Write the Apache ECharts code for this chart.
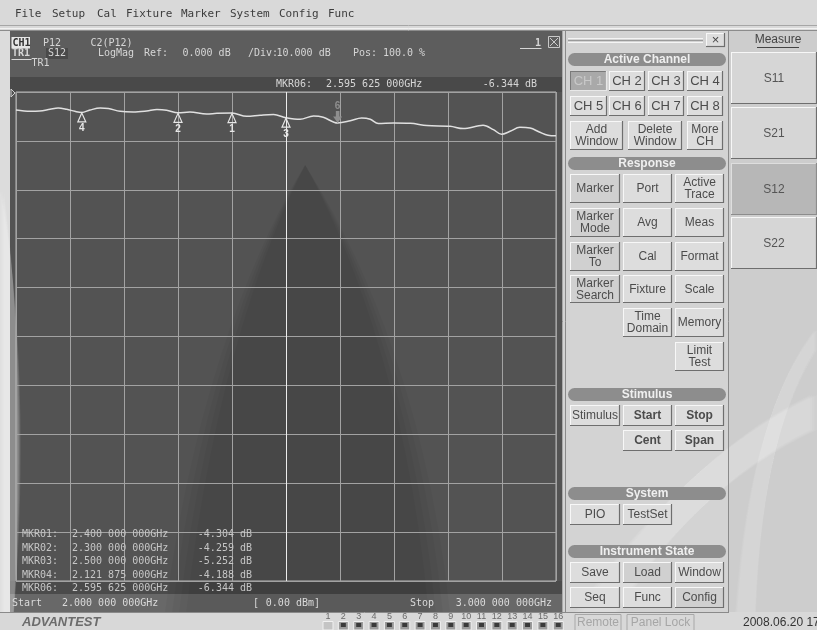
<!DOCTYPE html>
<html>
<head>
<meta charset="utf-8">
<script src="https://cdn.jsdelivr.net/npm/echarts@6/dist/echarts.min.js"></script>
<style>
  html, body { margin: 0; padding: 0; background: #d6d6d6; }
  #chart { width: 817px; height: 630px; }
</style>
</head>
<body>
<div id="chart"></div>
<script>
// S12 LogMag trace, 2 GHz .. 3 GHz sweep
const freqGHz = [2.000, 2.026, 2.044, 2.063, 2.078, 2.094, 2.109, 2.121875, 2.137, 2.156, 2.171, 2.193,
  2.217, 2.242, 2.261, 2.279, 2.300, 2.322, 2.353, 2.372, 2.400, 2.427, 2.452, 2.477, 2.500, 2.526,
  2.551, 2.569, 2.595625, 2.619, 2.640, 2.656, 2.671, 2.699, 2.730, 2.761, 2.804, 2.828, 2.865, 2.884,
  2.899, 2.915, 2.933, 2.952, 2.970, 2.985, 3.000];
const levelDb = [-3.68, -3.95, -3.89, -3.54, -3.27, -3.54, -3.95, -4.188, -3.68, -3.27, -3.39, -3.95,
  -4.09, -3.89, -3.60, -3.74, -4.259, -4.09, -4.50, -4.36, -4.304, -4.97, -4.76, -4.62, -5.252, -5.58,
  -4.91, -5.17, -6.344, -5.89, -5.32, -5.58, -6.46, -6.34, -6.40, -6.87, -7.01, -7.48, -6.81, -7.69,
  -8.65, -8.04, -7.22, -7.36, -8.24, -8.85, -8.96];

// Markers (MKR01..MKR04, MKR06 is the active one)
const markerIds = ['1', '2', '3', '4', '6'];
const markerFreq = [2.4, 2.3, 2.5, 2.121875, 2.595625];
const markerDb = [-4.304, -4.259, -5.252, -4.188, -6.344];
const activeMarker = '6';

// Sweep / scale settings
const startGHz = 2.0, stopGHz = 3.0, freqDiv = 0.1;
const refDb = 0, perDivDb = 10, divisions = 10;
const sourceDbm = 0.00;

// Right-hand soft key labels
const channelKeys = ['CH 1', 'CH 2', 'CH 3', 'CH 4', 'CH 5', 'CH 6', 'CH 7', 'CH 8'];
const measureKeys = ['S11', 'S21', 'S12', 'S22'];
const menuItems = ['File', 'Setup', 'Cal', 'Fixture', 'Marker', 'System', 'Config', 'Func'];

const fmtGHz = f => {
  const s = f.toFixed(9);
  return s.slice(0, 5) + ' ' + s.slice(5, 8) + ' ' + s.slice(8) + 'GHz';
};
const fmtDb = v => v.toFixed(3) + ' dB';
const mkrName = id => 'MKR' + (id.length < 2 ? '0' + id : id) + ':';

const MONO = '"DejaVu Sans Mono", "Liberation Mono", monospace';
const SANS = '"Liberation Sans", Arial, sans-serif';
const INK = '#d6d6d6';

// ---- small builders for the instrument screen chrome ----
function T(x, y, text, o = {}) {
  return {
    type: 'text', x, y, silent: true, z: o.z || 20,
    style: {
      text, fill: o.c || INK, font: o.font || ('10px ' + MONO),
      align: o.a || 'left', verticalAlign: 'middle'
    }
  };
}
function R(x, y, w, h, fill, o = {}) {
  return {
    type: 'rect', silent: true, z: o.z !== undefined ? o.z : -5,
    shape: { x, y, width: w, height: h, r: o.r || 0 },
    style: { fill, stroke: o.s || null, lineWidth: o.lw || 1 }
  };
}
function L(x1, y1, x2, y2, c, w = 1, z = 5) {
  return { type: 'line', silent: true, z, shape: { x1, y1, x2, y2 }, style: { stroke: c, lineWidth: w } };
}
// closed shape made of cubic segments: start point, then [c1, c2, end] triples (or [end] for a straight edge)
function blob(start, segs, fill, z) {
  const pts = [start];
  let p0 = start;
  segs.forEach(s => {
    if (s.length === 1) { pts.push(s[0]); p0 = s[0]; return; }
    const [c1, c2, p3] = s;
    for (let i = 1; i <= 16; i++) {
      const t = i / 16, u = 1 - t;
      pts.push([
        u * u * u * p0[0] + 3 * u * u * t * c1[0] + 3 * u * t * t * c2[0] + t * t * t * p3[0],
        u * u * u * p0[1] + 3 * u * u * t * c1[1] + 3 * u * t * t * c2[1] + t * t * t * p3[1]
      ]);
    }
    p0 = p3;
  });
  return { type: 'polygon', silent: true, z, shape: { points: pts }, style: { fill, stroke: null } };
}
// soft-edged version: a few nested copies, each nudged inward
function softBlob(start, segs, rgb, alpha, z, inset) {
  const cx = [start, ...segs.flat()].reduce((a, p) => a + p[0], 0) / (1 + segs.flat().length);
  const out = [];
  for (let k = 0; k < 4; k++) {
    const f = p => [p[0] + (cx - p[0]) * inset * k, p[1]];
    out.push(blob(f(start), segs.map(s => s.map(f)), 'rgba(' + rgb + ',' + alpha + ')', z));
  }
  return out;
}
function button(x, y, w, h, lines, o = {}) {
  const els = [
    R(x, y, w, h, o.face || '#dddddd', { z: 1 }),
    L(x, y + 0.5, x + w, y + 0.5, o.hi || '#f7f7f7', 1, 2),
    L(x + 0.5, y, x + 0.5, y + h, o.hi || '#f7f7f7', 1, 2),
    L(x, y + h - 0.5, x + w, y + h - 0.5, o.lo || '#6e6e6e', 1.2, 2),
    L(x + w - 0.5, y, x + w - 0.5, y + h, o.lo || '#6e6e6e', 1.2, 2)
  ];
  const lh = 12;
  const y0 = y + h / 2 - (lines.length - 1) * lh / 2 + 0.5;
  lines.forEach((t, i) => els.push(T(x + w / 2, y0 + i * lh, t,
    { a: 'center', c: o.c || '#4c4c4c', font: o.font || ('12px ' + SANS), z: 3 })));
  return els;
}
function header(y, label) {
  return [
    R(568, y, 158, 13, '#8d8d8d', { r: 6.5, z: 1 }),
    T(647, y + 7, label, { a: 'center', c: '#efefef', font: 'bold 12px ' + SANS, z: 3 })
  ];
}

function chrome() {
  const g = [];
  // menu bar
  g.push(R(0, 0, 817, 32, '#d9d9d9', { z: -10 }));
  const menuX = [15, 52, 97, 126, 181, 230, 279, 328];
  menuItems.forEach((m, i) => g.push(T(menuX[i], 14, m, { c: '#3c3c3c', font: '11px ' + MONO })));
  g.push(L(0, 25.5, 817, 25.5, '#a6a6a6'), L(0, 28.5, 817, 28.5, '#f2f2f2'), L(0, 30.5, 817, 30.5, '#8c8c8c'));

  // left margin + channel window
  g.push(R(0, 31, 10, 581, '#dcdcdc', { z: -10 }));
  g.push(R(10, 31, 553, 46, '#5d5d5d'));
  g.push(R(10, 77, 553, 15, '#494949'));
  g.push(R(10, 92, 553, 489, '#535353'));
  g.push(R(10, 581, 553, 13, '#4b4b4b'));
  g.push(R(10, 594, 553, 18, '#686868'));
  g.push(L(562.5, 31, 562.5, 612, '#a9a9a9', 1));

  // faint logo shading behind the screen
  g.push(...softBlob([305, 165], [[[262, 235], [195, 380], [165, 612]], [[450, 612]], [[425, 380], [350, 235], [305, 165]]],
    '0,0,0', 0.03, -4, 0.05));
  g.push(...softBlob([0, 190], [[[22, 300], [26, 470], [14, 612]], [[0, 612]]], '255,255,255', 0.1, -4, 0.1));
  g.push(...softBlob([575, 612], [[[640, 520], [720, 440], [817, 395]], [[817, 430]], [[730, 470], [660, 540], [615, 612]]],
    '255,255,255', 0.07, 0, 0.02));
  g.push(...softBlob([735, 612], [[[745, 470], [775, 380], [817, 330]], [[817, 350]], [[785, 400], [760, 480], [755, 612]]],
    '255,255,255', 0.06, 0, 0.02));

  // channel header
  g.push(R(11.5, 37, 18.5, 11.5, '#e6e6e6', { z: 6 }));
  g.push(T(12.5, 43, 'CH1', { c: '#333333', font: 'bold 10px ' + MONO }));
  g.push(T(43, 43, 'P12'));
  g.push(T(90.5, 43, 'C2(P12)'));
  g.push(T(12, 53.5, 'TR1', { font: 'bold 10px ' + MONO }));
  g.push(L(11.5, 59.5, 31.5, 59.5, INK));
  g.push(R(46, 48, 22, 11, '#4a4a4a', { z: 6 }));
  g.push(T(48, 53.5, 'S12'));
  g.push(T(98, 53.5, 'LogMag'));
  g.push(T(144, 53.5, 'Ref:'));
  g.push(T(182.5, 53.5, refDb.toFixed(3) + ' dB'));
  g.push(T(248, 53.5, '/Div:'));
  g.push(T(276.5, 53.5, perDivDb.toFixed(3) + ' dB'));
  g.push(T(353, 53.5, 'Pos:'));
  g.push(T(383, 53.5, '100.0 %'));
  g.push(T(31.5, 63.5, 'TR1'));
  g.push(T(535, 43, '1', { font: 'bold 10px ' + MONO }));
  g.push(L(520, 48.5, 541.5, 48.5, INK));
  g.push(R(548.5, 36.5, 11, 11, null, { s: '#c8c8c8', z: 6 }));
  g.push(L(550, 38, 558, 46, '#c8c8c8'), L(558, 38, 550, 46, '#c8c8c8'));

  // active marker read-out
  const ai = markerIds.indexOf(activeMarker);
  g.push(T(276, 84, mkrName(activeMarker)));
  g.push(T(326, 84, fmtGHz(markerFreq[ai])));
  g.push(T(537, 84, fmtDb(markerDb[ai]), { a: 'right' }));

  // marker table
  const rowY = [534.5, 548, 561.5, 575, 588];
  const order = ['1', '2', '3', '4', '6'];
  order.forEach((id, r) => {
    const k = markerIds.indexOf(id);
    g.push(T(22, rowY[r], mkrName(id), { c: '#c6c6c6' }));
    g.push(T(72, rowY[r], fmtGHz(markerFreq[k]), { c: '#c6c6c6' }));
    g.push(T(252, rowY[r], fmtDb(markerDb[k]), { c: '#c6c6c6', a: 'right' }));
  });

  // sweep line
  g.push(T(12, 603, 'Start', { c: '#dadada' }));
  g.push(T(62, 603, fmtGHz(startGHz), { c: '#dadada' }));
  g.push(T(253, 603, '[', { c: '#dadada' }));
  g.push(T(320, 603, sourceDbm.toFixed(2) + ' dBm]', { c: '#dadada', a: 'right' }));
  g.push(T(410, 603, 'Stop', { c: '#dadada' }));
  g.push(T(552, 603, fmtGHz(stopGHz), { c: '#dadada', a: 'right' }));

  // soft key panel
  g.push(R(563, 31, 166, 581, '#d3d3d3', { z: -10 }));
  g.push(L(565.5, 31, 565.5, 612, '#8a8a8a'), L(728.5, 31, 728.5, 612, '#8a8a8a'));
  g.push(L(568, 38.5, 703, 38.5, '#f4f4f4'), L(568, 40.5, 703, 40.5, '#9a9a9a'), L(568, 42.5, 703, 42.5, '#f4f4f4'));
  g.push(...button(706, 33, 19, 14, ['×'], { font: '13px ' + SANS, c: '#444' }));

  g.push(...header(53, 'Active Channel'));
  const chX = [570, 609, 648, 687], chW = [37, 36, 36, 36];
  channelKeys.forEach((c, i) => {
    const col = i % 4, row = Math.floor(i / 4);
    const active = i === 0;
    g.push(...button(chX[col], 71 + row * 25, chW[col], 20, [c], active
      ? { face: '#a9a9a9', c: '#c9c9c9', hi: '#7a7a7a', lo: '#e8e8e8', font: '13px ' + SANS }
      : { font: '13px ' + SANS }));
  });
  g.push(...button(570, 121, 53, 29, ['Add', 'Window']));
  g.push(...button(628, 121, 54, 29, ['Delete', 'Window']));
  g.push(...button(687, 121, 36, 29, ['More', 'CH']));

  g.push(...header(157, 'Response'));
  const c1 = 570, c2 = 623, c3 = 675, bw = 49;
  const dark = { face: '#d0d0d0' };
  g.push(...button(c1, 174, 50, 29, ['Marker'], dark));
  g.push(...button(c2, 174, bw, 29, ['Port']));
  g.push(...button(c3, 174, bw, 29, ['Active', 'Trace']));
  g.push(...button(c1, 208, 50, 29, ['Marker', 'Mode'], dark));
  g.push(...button(c2, 208, bw, 29, ['Avg']));
  g.push(...button(c3, 208, bw, 29, ['Meas']));
  g.push(...button(c1, 242, 50, 29, ['Marker', 'To'], dark));
  g.push(...button(c2, 242, bw, 29, ['Cal']));
  g.push(...button(c3, 242, bw, 29, ['Format']));
  g.push(...button(c1, 275, 50, 28, ['Marker', 'Search'], dark));
  g.push(...button(c2, 275, bw, 28, ['Fixture']));
  g.push(...button(c3, 275, bw, 28, ['Scale']));
  g.push(...button(c2, 308, bw, 29, ['Time', 'Domain']));
  g.push(...button(c3, 308, bw, 29, ['Memory']));
  g.push(...button(c3, 342, bw, 29, ['Limit', 'Test']));

  g.push(...header(388, 'Stimulus'));
  g.push(...button(c1, 405, 50, 21, ['Stimulus']));
  g.push(...button(c2, 405, bw, 21, ['Start'], { font: 'bold 12px ' + SANS }));
  g.push(...button(c3, 405, bw, 21, ['Stop'], { font: 'bold 12px ' + SANS }));
  g.push(...button(c2, 430, bw, 21, ['Cent'], { font: 'bold 12px ' + SANS }));
  g.push(...button(c3, 430, bw, 21, ['Span'], { font: 'bold 12px ' + SANS }));

  g.push(...header(487, 'System'));
  g.push(...button(c1, 504, 50, 21, ['PIO']));
  g.push(...button(c2, 504, bw, 21, ['TestSet']));

  g.push(...header(545, 'Instrument State'));
  g.push(...button(c1, 562, 50, 21, ['Save']));
  g.push(...button(c2, 562, bw, 21, ['Load'], dark));
  g.push(...button(c3, 562, bw, 21, ['Window']));
  g.push(...button(c1, 587, 50, 21, ['Seq']));
  g.push(...button(c2, 587, bw, 21, ['Func']));
  g.push(...button(c3, 587, bw, 21, ['Config'], dark));

  // measure panel
  g.push(R(729, 31, 88, 581, '#cdcdcd', { z: -10 }));
  g.push(T(778, 40, 'Measure', { a: 'center', c: '#444', font: '12px ' + SANS }));
  g.push(L(757, 47.5, 799, 47.5, '#444'));
  const sY = [52, 107, 163, 217];
  measureKeys.forEach((s, i) => {
    g.push(...button(731, sY[i], 86, 52, [s], s === 'S12'
      ? { face: '#b7b7b7', c: '#555', hi: '#dedede', lo: '#8c8c8c' }
      : { face: '#d6d6d6', c: '#555' }));
  });

  // status bar
  g.push(R(0, 612, 817, 18, '#d8d8d8', { z: -10 }));
  g.push(L(0, 612.5, 729, 612.5, '#8a8a8a'));
  g.push(T(22, 622.5, 'ADVANTEST', { c: '#6c6c6c', font: 'italic bold 13px ' + SANS }));
  for (let i = 1; i <= 16; i++) {
    const x = 328 + (i - 1) * 15.35;
    g.push(T(x, 616.5, String(i), { a: 'center', c: '#6a6a6a', font: '9px ' + SANS }));
    g.push(R(x - 5, 621.5, 10, 8.5, i === 1 ? '#c4c4c4' : '#9a9a9a', { s: '#f0f0f0', z: 1 }));
    if (i > 1) g.push(R(x - 2.5, 623, 5, 4, '#3a3a3a', { z: 2 }));
  }
  g.push(R(575, 614.5, 46, 16, null, { s: '#a8a8a8', z: 1 }));
  g.push(T(598, 623, 'Remote', { a: 'center', c: '#a6a6a6', font: '12px ' + SANS }));
  g.push(R(627, 614.5, 67, 16, null, { s: '#a8a8a8', z: 1 }));
  g.push(T(660.5, 623, 'Panel Lock', { a: 'center', c: '#a6a6a6', font: '12px ' + SANS }));
  g.push(T(743, 623, '2008.06.20 17:45', { c: '#333', font: '12px ' + SANS }));
  return g;
}

const chart = echarts.init(document.getElementById('chart'), null, { renderer: 'canvas' });

const traceData = freqGHz.map((f, i) => [f, levelDb[i]]);
const markPts = markerIds.map((id, k) => {
  const active = id === activeMarker;
  return active ? {
    coord: [markerFreq[k], markerDb[k]], value: id,
    symbol: 'path://M3,0 L7,0 L7,6 L10,6 L5,13 L0,6 L3,6 Z',
    symbolSize: [9, 12], symbolOffset: [0, -6],
    itemStyle: { color: '#8e8e8e' },
    label: { show: true, position: 'top', distance: 0, formatter: id, color: '#8e8e8e',
      fontWeight: 'bold', fontSize: 10, fontFamily: SANS }
  } : {
    coord: [markerFreq[k], markerDb[k]], value: id,
    symbol: 'triangle', symbolSize: [8, 9], symbolOffset: [0, 5],
    itemStyle: { color: 'rgba(0,0,0,0)', borderColor: '#e6e6e6', borderWidth: 1.2 },
    label: { show: true, position: 'bottom', distance: 1, formatter: id, color: '#e6e6e6',
      fontWeight: 'bold', fontSize: 10, fontFamily: SANS }
  };
});

const gridLine = '#a2a2a2';
chart.setOption({
  animation: false,
  backgroundColor: '#d6d6d6',
  grid: { left: 16, right: 261, top: 92, bottom: 49, show: true, borderColor: '#b8b8b8', borderWidth: 1 },
  xAxis: {
    type: 'value', min: startGHz, max: stopGHz, interval: freqDiv,
    axisLine: { show: false }, axisTick: { show: false }, axisLabel: { show: false },
    splitLine: { show: true, lineStyle: { color: gridLine, width: 1 } }
  },
  yAxis: {
    type: 'value', min: refDb - perDivDb * divisions, max: refDb, interval: perDivDb,
    axisLine: { show: false }, axisTick: { show: false }, axisLabel: { show: false },
    splitLine: { show: true, lineStyle: { color: gridLine, width: 1 } }
  },
  series: [{
    type: 'line', name: 'S12', data: traceData, smooth: 0.35, showSymbol: false,
    lineStyle: { color: '#e0e0e0', width: 1.5 },
    markLine: {
      silent: true, symbol: 'none', label: { show: false },
      lineStyle: { color: '#ececec', width: 1, type: 'solid' },
      data: [{ xAxis: (startGHz + stopGHz) / 2 }]
    },
    markPoint: { silent: true, data: markPts }
  }],
  graphic: chrome()
});

// reference-position indicator on the left edge of the graticule
const refPx = chart.convertToPixel({ gridIndex: 0 }, [startGHz, refDb]);
chart.setOption({
  graphic: chrome().concat([{
    type: 'polygon', silent: true, z: 20,
    shape: { points: [[refPx[0] - 5, refPx[1] - 3], [refPx[0] - 1, refPx[1] + 1], [refPx[0] - 5, refPx[1] + 5]] },
    style: { fill: null, stroke: '#cfcfcf', lineWidth: 1 }
  }])
}, { replaceMerge: ['graphic'] });
</script>
</body>
</html>
